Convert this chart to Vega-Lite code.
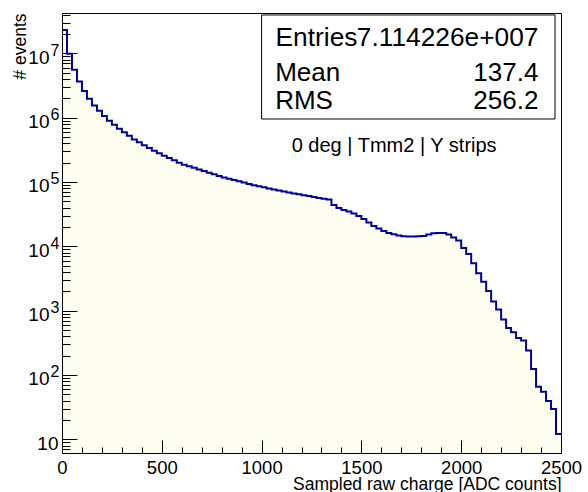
{
  "$schema": "https://vega.github.io/schema/vega-lite/v6.json",
  "width": 499,
  "height": 440,
  "autosize": {"type": "none"},
  "padding": {"left": 62, "top": 13, "right": 27, "bottom": 39},
  "background": "white",
  "config": {"view": {"stroke": "#000", "strokeWidth": 1}, "font": "Liberation Sans"},
  "datasets": {
    "h": [
      {"lo":0,"hi":25,"n":23000000},{"lo":25,"hi":50,"n":9860000},{"lo":50,"hi":75,"n":5560000},{"lo":75,"hi":100,"n":3660000},
      {"lo":100,"hi":125,"n":2590000},{"lo":125,"hi":150,"n":1970000},{"lo":150,"hi":175,"n":1550000},{"lo":175,"hi":200,"n":1280000},
      {"lo":200,"hi":225,"n":1060000},{"lo":225,"hi":250,"n":895000},{"lo":250,"hi":275,"n":776000},{"lo":275,"hi":300,"n":671000},
      {"lo":300,"hi":325,"n":590000},{"lo":325,"hi":350,"n":524000},{"lo":350,"hi":375,"n":459000},{"lo":375,"hi":400,"n":413000},
      {"lo":400,"hi":425,"n":371000},{"lo":425,"hi":450,"n":337000},{"lo":450,"hi":475,"n":305000},{"lo":475,"hi":500,"n":279000},
      {"lo":500,"hi":525,"n":256000},{"lo":525,"hi":550,"n":236000},{"lo":550,"hi":575,"n":217000},{"lo":575,"hi":600,"n":199000},
      {"lo":600,"hi":625,"n":185000},{"lo":625,"hi":650,"n":175000},{"lo":650,"hi":675,"n":165600},{"lo":675,"hi":700,"n":156300},
      {"lo":700,"hi":725,"n":147600},{"lo":725,"hi":750,"n":139300},{"lo":750,"hi":775,"n":131500},{"lo":775,"hi":800,"n":124200},
      {"lo":800,"hi":825,"n":117800},{"lo":825,"hi":850,"n":112500},{"lo":850,"hi":875,"n":107400},{"lo":875,"hi":900,"n":102300},
      {"lo":900,"hi":925,"n":97700},{"lo":925,"hi":950,"n":93100},{"lo":950,"hi":975,"n":88900},{"lo":975,"hi":1000,"n":85500},
      {"lo":1000,"hi":1025,"n":82400},{"lo":1025,"hi":1050,"n":79400},{"lo":1050,"hi":1075,"n":76600},{"lo":1075,"hi":1100,"n":73600},
      {"lo":1100,"hi":1125,"n":71000},{"lo":1125,"hi":1150,"n":68500},{"lo":1150,"hi":1175,"n":66400},{"lo":1175,"hi":1200,"n":64300},
      {"lo":1200,"hi":1225,"n":62200},{"lo":1225,"hi":1250,"n":60300},{"lo":1250,"hi":1275,"n":58500},{"lo":1275,"hi":1300,"n":56500},
      {"lo":1300,"hi":1325,"n":55000},{"lo":1325,"hi":1350,"n":53300},{"lo":1350,"hi":1375,"n":43800},{"lo":1375,"hi":1400,"n":39400},
      {"lo":1400,"hi":1425,"n":36600},{"lo":1425,"hi":1450,"n":34700},{"lo":1450,"hi":1475,"n":32300},{"lo":1475,"hi":1500,"n":29600},
      {"lo":1500,"hi":1525,"n":26600},{"lo":1525,"hi":1550,"n":23400},{"lo":1550,"hi":1575,"n":20700},{"lo":1575,"hi":1600,"n":18900},
      {"lo":1600,"hi":1625,"n":17300},{"lo":1625,"hi":1650,"n":16100},{"lo":1650,"hi":1675,"n":15400},{"lo":1675,"hi":1700,"n":14700},
      {"lo":1700,"hi":1725,"n":14300},{"lo":1725,"hi":1750,"n":14200},{"lo":1750,"hi":1775,"n":14200},{"lo":1775,"hi":1800,"n":14300},
      {"lo":1800,"hi":1825,"n":14500},{"lo":1825,"hi":1850,"n":15200},{"lo":1850,"hi":1875,"n":15900},{"lo":1875,"hi":1900,"n":16100},
      {"lo":1900,"hi":1925,"n":16100},{"lo":1925,"hi":1950,"n":15200},{"lo":1950,"hi":1975,"n":13700},{"lo":1975,"hi":2000,"n":12300},
      {"lo":2000,"hi":2025,"n":9400},{"lo":2025,"hi":2050,"n":7600},{"lo":2050,"hi":2075,"n":5440},{"lo":2075,"hi":2100,"n":3800},
      {"lo":2100,"hi":2125,"n":2820},{"lo":2125,"hi":2150,"n":2020},{"lo":2150,"hi":2175,"n":1380},{"lo":2175,"hi":2200,"n":1040},
      {"lo":2200,"hi":2225,"n":728},{"lo":2225,"hi":2250,"n":537},{"lo":2250,"hi":2275,"n":460},{"lo":2275,"hi":2300,"n":375},
      {"lo":2300,"hi":2325,"n":343},{"lo":2325,"hi":2350,"n":240},{"lo":2350,"hi":2375,"n":124},{"lo":2375,"hi":2400,"n":65.6},
      {"lo":2400,"hi":2425,"n":54.8},{"lo":2425,"hi":2450,"n":39.3},{"lo":2450,"hi":2475,"n":29.5},{"lo":2475,"hi":2500,"n":12.1}
    ]
  },
  "resolve": {"axis": {"x": "independent", "y": "independent"}},
  "layer": [
    {
      "data": {"name": "h"},
      "mark": {"type": "rect", "color": "#fefef0", "clip": true},
      "encoding": {
        "x": {"field": "lo", "type": "quantitative",
          "scale": {"domain": [0, 2500], "nice": false, "zero": false},
          "axis": {"orient": "bottom", "values": [0, 500, 1000, 1500, 2000, 2500], "tickSize": -13, "tickColor": "#000", "tickWidth": 1,
            "domainColor": "#000", "grid": false, "labelFont": "Liberation Sans", "labelFontSize": 18.5, "labelColor": "#000",
            "labelPadding": 18.5, "labelFlush": false, "labelOverlap": false, "format": "d",
            "title": "Sampled raw charge [ADC counts]", "titleFont": "Liberation Sans", "titleFontSize": 17.5, "titleFontWeight": "normal",
            "titleColor": "#000", "titleAnchor": "end", "titlePadding": -2, "zindex": 1}},
        "x2": {"field": "hi"},
        "y": {"field": "n", "type": "quantitative", "stack": null,
          "scale": {"type": "log", "domain": [6.12, 42300000], "nice": false},
          "axis": {"orient": "left", "values": [10, 100, 1000, 10000, 100000, 1000000, 10000000], "tickSize": -15, "tickColor": "#000", "tickWidth": 1,
            "domainColor": "#000", "grid": false, "labelExpr": "'10'", "labelFont": "Liberation Sans", "labelFontSize": 19, "labelColor": "#000",
            "labelPadding": {"condition": {"test": "datum.value < 50", "value": 19}, "value": 28}, "labelOffset": 4,
            "labelOverlap": false, "labelFlush": false,
            "title": "# events", "titleFont": "Liberation Sans", "titleFontSize": 17.5, "titleFontWeight": "normal", "titleColor": "#000",
            "titleAnchor": "end", "titlePadding": -2, "zindex": 1}},
        "y2": {"datum": 6.12}
      }
    },
    {
      "data": {"name": "h"},
      "transform": [{"fold": ["lo", "hi"], "as": ["edge", "x"]}],
      "mark": {"type": "line", "color": "#00009a", "strokeWidth": 2, "clip": true},
      "encoding": {
        "x": {"field": "x", "type": "quantitative",
          "scale": {"domain": [0, 2500], "nice": false, "zero": false},
          "axis": {"orient": "bottom", "values": [100,200,300,400,600,700,800,900,1100,1200,1300,1400,1600,1700,1800,1900,2100,2200,2300,2400],
            "tickSize": -6, "tickColor": "#000", "tickWidth": 1, "domain": false, "labels": false, "grid": false, "title": null, "zindex": 1}},
        "y": {"field": "n", "type": "quantitative",
          "scale": {"type": "log", "domain": [6.12, 42300000], "nice": false},
          "axis": {"orient": "left", "values": [7,8,9,20,30,40,50,60,70,80,90,200,300,400,500,600,700,800,900,2000,3000,4000,5000,6000,7000,8000,9000,20000,30000,40000,50000,60000,70000,80000,90000,200000,300000,400000,500000,600000,700000,800000,900000,2000000,3000000,4000000,5000000,6000000,7000000,8000000,9000000,20000000,30000000,40000000],
            "tickSize": -8, "tickColor": "#000", "tickWidth": 1, "domain": false, "labels": false, "grid": false, "title": null, "zindex": 1}},
        "order": [{"field": "lo", "type": "quantitative"}, {"field": "edge", "sort": "descending"}]
      }
    },
    {
      "data": {"values": [{}]},
      "mark": {"type": "rect", "fill": "white", "stroke": "#000", "strokeWidth": 1},
      "encoding": {
        "x": {"datum": 1000, "type": "quantitative", "scale": {"domain": [0, 2500], "nice": false, "zero": false}, "axis": null},
        "x2": {"datum": 2470},
        "y": {"datum": 39400000, "type": "quantitative", "scale": {"type": "log", "domain": [6.12, 42300000], "nice": false},
          "axis": {"orient": "left", "values": [100, 1000, 10000, 100000, 1000000, 10000000], "ticks": false, "domain": false, "grid": false,
            "labelExpr": "'' + round(log(datum.value) / LN10)", "labelFont": "Liberation Sans", "labelFontSize": 16, "labelColor": "#000",
            "labelPadding": 3, "labelOffset": -3, "labelOverlap": false, "labelFlush": false, "title": null, "zindex": 1}},
        "y2": {"datum": 953000}
      }
    },
    {
      "data": {"values": [{}]},
      "mark": {"type": "text", "text": "Entries", "font": "Liberation Sans", "fontSize": 26.3, "align": "left", "baseline": "alphabetic", "color": "#000"},
      "encoding": {"x": {"datum": 1070, "type": "quantitative", "axis": null}, "y": {"datum": 12850000, "type": "quantitative", "axis": null}}
    },
    {
      "data": {"values": [{}]},
      "mark": {"type": "text", "text": "7.114226e+007", "font": "Liberation Sans", "fontSize": 26.3, "align": "right", "baseline": "alphabetic", "color": "#000"},
      "encoding": {"x": {"datum": 2387, "type": "quantitative", "axis": null}, "y": {"datum": 12850000, "type": "quantitative", "axis": null}}
    },
    {
      "data": {"values": [{}]},
      "mark": {"type": "text", "text": "Mean", "font": "Liberation Sans", "fontSize": 26, "align": "left", "baseline": "alphabetic", "color": "#000"},
      "encoding": {"x": {"datum": 1068, "type": "quantitative", "axis": null}, "y": {"datum": 3710000, "type": "quantitative", "axis": null}}
    },
    {
      "data": {"values": [{}]},
      "mark": {"type": "text", "text": "137.4", "font": "Liberation Sans", "fontSize": 26, "align": "right", "baseline": "alphabetic", "color": "#000"},
      "encoding": {"x": {"datum": 2387, "type": "quantitative", "axis": null}, "y": {"datum": 3710000, "type": "quantitative", "axis": null}}
    },
    {
      "data": {"values": [{}]},
      "mark": {"type": "text", "text": "RMS", "font": "Liberation Sans", "fontSize": 26, "align": "left", "baseline": "alphabetic", "color": "#000"},
      "encoding": {"x": {"datum": 1068, "type": "quantitative", "axis": null}, "y": {"datum": 1345000, "type": "quantitative", "axis": null}}
    },
    {
      "data": {"values": [{}]},
      "mark": {"type": "text", "text": "256.2", "font": "Liberation Sans", "fontSize": 26, "align": "right", "baseline": "alphabetic", "color": "#000"},
      "encoding": {"x": {"datum": 2387, "type": "quantitative", "axis": null}, "y": {"datum": 1345000, "type": "quantitative", "axis": null}}
    },
    {
      "data": {"values": [{}]},
      "mark": {"type": "text", "text": "0 deg | Tmm2 | Y strips", "font": "Liberation Sans", "fontSize": 20, "align": "center", "baseline": "alphabetic", "color": "#000"},
      "encoding": {"x": {"datum": 1664, "type": "quantitative", "axis": null}, "y": {"datum": 290000, "type": "quantitative", "axis": null}}
    }
  ]
}
